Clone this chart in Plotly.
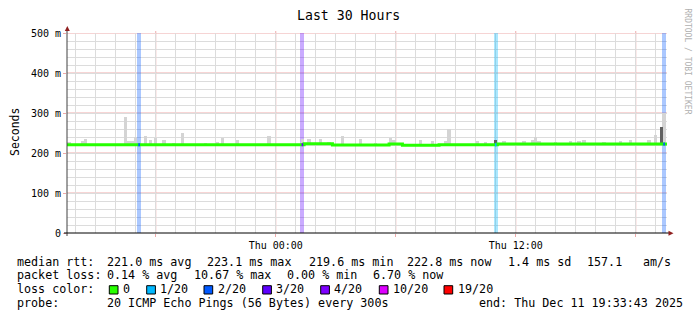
import pandas as pd
import plotly.graph_objects as go

# ---------------- data ----------------
START = "2025-12-10 13:33:43"
END = "2025-12-11 19:33:43"

# median RTT (ms) as step changes
median_times = ["2025-12-10 13:33:43", "2025-12-11 01:25:00", "2025-12-11 02:50:00", "2025-12-11 05:40:00",
                "2025-12-11 06:20:00", "2025-12-11 08:10:00", "2025-12-11 11:05:00", "2025-12-11 19:33:43"]
median_ms = [220.8, 223.1, 220.0, 222.5, 219.6, 220.6, 222.3, 222.3]

# light smoke (upper ping spread, ms)
smoke_times = ["2025-12-10 13:40", "2025-12-10 14:20", "2025-12-10 14:30", "2025-12-10 16:30",
               "2025-12-10 16:40", "2025-12-10 16:50", "2025-12-10 17:00", "2025-12-10 17:30",
               "2025-12-10 17:45", "2025-12-10 18:00", "2025-12-10 18:25", "2025-12-10 18:55",
               "2025-12-10 19:20", "2025-12-10 20:30", "2025-12-10 21:05", "2025-12-10 21:20",
               "2025-12-10 22:05", "2025-12-10 23:40",
               "2025-12-11 01:20", "2025-12-11 01:40", "2025-12-11 02:15", "2025-12-11 02:40",
               "2025-12-11 03:20", "2025-12-11 04:15", "2025-12-11 05:00", "2025-12-11 05:45",
               "2025-12-11 05:55", "2025-12-11 07:15", "2025-12-11 07:50", "2025-12-11 08:30",
               "2025-12-11 08:40", "2025-12-11 10:05", "2025-12-11 10:30", "2025-12-11 11:25",
               "2025-12-11 12:25", "2025-12-11 12:50", "2025-12-11 13:00", "2025-12-11 13:10",
               "2025-12-11 14:00", "2025-12-11 14:45", "2025-12-11 15:10", "2025-12-11 15:25",
               "2025-12-11 16:25", "2025-12-11 17:15", "2025-12-11 17:45", "2025-12-11 18:40",
               "2025-12-11 19:00", "2025-12-11 19:25"]
smoke_top_ms = [227, 230, 236, 291, 230, 231, 241, 242, 232, 238, 232, 226, 250, 225, 227, 237, 232, 243,
                234, 236, 234, 227, 242, 236, 226, 238, 232, 232, 230, 231, 260, 231, 227, 231,
                231, 232, 241, 229, 227, 231, 231, 232, 228, 229, 232, 232, 245, 300]

# dark smoke
dark_smoke_times = ["2025-12-11 11:00", "2025-12-11 19:18"]
dark_smoke_top_ms = [232, 266]

# packet loss events (pings lost out of 20)
loss_times = ["2025-12-10 17:10", "2025-12-11 01:20", "2025-12-11 11:00", "2025-12-11 19:25"]
loss_count = [2, 3, 1, 2]

loss_levels = ["0", "1/20", "2/20", "3/20", "4/20", "10/20", "19/20"]
loss_level_counts = [0, 1, 2, 3, 4, 10, 19]
loss_level_colors = ["#26ff00", "#00b8ff", "#0059ff", "#5e00ff", "#7e00ff", "#dd00ff", "#ff0000"]

rtt_stats = [221.0, 223.1, 219.6, 222.8]   # avg max min now
rtt_sd = 1.4
rtt_ams = 157.1
loss_stats = [0.14, 10.67, 0.00, 6.70]     # avg max min now

y_tickvals = [0, 100, 200, 300, 400, 500]
y_ticktext = ["0", "100 m", "200 m", "300 m", "400 m", "500 m"]
x_major_ticks = ["2025-12-10 18:00", "2025-12-11 00:00", "2025-12-11 06:00", "2025-12-11 12:00", "2025-12-11 18:00"]
x_major_text = ["", "Thu 00:00", "", "Thu 12:00", ""]

# ---------------- helpers ----------------
STEP_MS = 300000
med = pd.Series(median_ms, index=pd.to_datetime(median_times, format="mixed"))


def med_at(t):
    return float(med.asof(pd.Timestamp(t)))


def hex_rgba(h, a):
    h = h.lstrip("#")
    return "rgba(%d,%d,%d,%.2f)" % (int(h[0:2], 16), int(h[2:4], 16), int(h[4:6], 16), a)


color_of = dict(zip(loss_level_counts, loss_level_colors))

L, T, W, H = 67, 33, 600, 200


def px(x):
    return (x - L) / W


def py(y):
    return (T + H - y) / H


MONO = "DejaVu Sans Mono"

fig = go.Figure()

# loss background bands
for t, c in zip(loss_times, loss_count):
    fig.add_trace(go.Bar(x=[t], y=[500], base=[0], width=[2.4 * STEP_MS],
                         marker=dict(color=hex_rgba(color_of[c], 0.33), line=dict(width=0)),
                         hoverinfo="skip"))

# smoke
fig.add_trace(go.Bar(x=smoke_times, y=[v - med_at(t) for t, v in zip(smoke_times, smoke_top_ms)],
                     base=[med_at(t) for t in smoke_times], width=2 * STEP_MS,
                     marker=dict(color="#d4d4d4", line=dict(width=0))))
fig.add_trace(go.Bar(x=dark_smoke_times, y=[v - med_at(t) for t, v in zip(dark_smoke_times, dark_smoke_top_ms)],
                     base=[med_at(t) for t in dark_smoke_times], width=2 * STEP_MS,
                     marker=dict(color="#606060", line=dict(width=0))))

# median line
fig.add_trace(go.Scatter(x=median_times, y=median_ms, mode="lines", line=dict(color="#26ff00", width=3, shape="hv")))

# loss-coloured median pieces
for t, c in zip(loss_times, loss_count):
    ts = pd.Timestamp(t)
    fig.add_trace(go.Scatter(x=[ts - pd.Timedelta(seconds=150), ts + pd.Timedelta(seconds=150)],
                             y=[med_at(t), med_at(t)], mode="lines",
                             line=dict(color=color_of[c], width=3)))

MAJ_GRID = "#eeaaaa"
MIN_GRID = "#dcdcdc"

fig.update_layout(
    width=697, height=321, margin=dict(l=L, r=697 - L - W, t=T, b=321 - T - H),
    plot_bgcolor="white", paper_bgcolor="white", showlegend=False,
    barmode="overlay", bargap=0,
    xaxis=dict(type="date", range=[START, END], tickvals=x_major_ticks, ticktext=x_major_text,
               tickfont=dict(family=MONO, size=10, color="black"), ticks="outside", ticklen=3,
               tickcolor=MAJ_GRID, showgrid=False,
               minor=dict(dtick=3600000, tick0="2025-12-10 00:00", showgrid=True, gridcolor=MIN_GRID, ticks=""),
               showline=False, zeroline=False, fixedrange=True),
    yaxis=dict(range=[0, 500], tickvals=y_tickvals, ticktext=y_ticktext,
               tickfont=dict(family=MONO, size=10, color="black"), ticks="outside", ticklen=3,
               tickcolor=MAJ_GRID, showgrid=False,
               minor=dict(dtick=20, showgrid=True, gridcolor=MIN_GRID, ticks=""),
               showline=False, zeroline=False, fixedrange=True),
)

shapes = []
# major (red) grid lines drawn above the minor grid
for tv in x_major_ticks:
    shapes.append(dict(type="line", xref="x", yref="paper", x0=tv, x1=tv, y0=0, y1=py(31),
                       layer="below", line=dict(color=MAJ_GRID, width=1)))
for yv in y_tickvals[1:]:
    shapes.append(dict(type="line", xref="paper", yref="y", x0=0, x1=1, y0=yv, y1=yv,
                       layer="below", line=dict(color=MAJ_GRID, width=1)))
# axis lines
shapes.append(dict(type="line", xref="paper", yref="paper", x0=px(67), x1=px(67), y0=py(236), y1=py(29),
                   line=dict(color="#404040", width=1)))
shapes.append(dict(type="line", xref="paper", yref="paper", x0=px(64), x1=px(669), y0=py(233), y1=py(233),
                   line=dict(color="#000000", width=1)))
# arrows
shapes.append(dict(type="path", xref="paper", yref="paper",
                   path="M %f %f L %f %f L %f %f Z" % (px(67.3), py(26), px(64.8), py(31), px(69.8), py(31)),
                   fillcolor="#902020", line=dict(width=0)))
shapes.append(dict(type="path", xref="paper", yref="paper",
                   path="M %f %f L %f %f L %f %f Z" % (px(673.5), py(233.3), px(668.5), py(230.8), px(668.5), py(235.8)),
                   fillcolor="#902020", line=dict(width=0)))

ann = []


def text(x, y, s, size=11.7, anchor="left", color="black", angle=0):
    ann.append(dict(xref="paper", yref="paper", x=px(x), y=py(y), text=s, showarrow=False,
                    xanchor=anchor, yanchor="middle", textangle=angle, borderpad=0,
                    font=dict(family=MONO, size=size, color=color)))


text(348.5, 15.7, "Last 30 Hours", size=13.2, anchor="center")
text(15, 132, "Seconds", size=11.5, anchor="center", angle=-90)
text(687.5, 61, "RRDTOOL / TOBI OETIKER", size=8, anchor="center", color="#b0b0b0", angle=90)

# legend line 1
y1 = 261.7
text(16.2, y1, "median rtt:")
text(106.2, y1, "%.1f ms avg" % rtt_stats[0])
text(206.2, y1, "%.1f ms max" % rtt_stats[1])
text(307.8, y1, "%.1f ms min" % rtt_stats[2])
text(406.2, y1, "%.1f ms now" % rtt_stats[3])
text(506.8, y1, "%.1f ms sd" % rtt_sd)
text(585.5, y1, "%.1f" % rtt_ams)
text(642.2, y1, "am/s")
# legend line 2
y2 = 275
text(16.2, y2, "packet loss:")
text(106.2, y2, "%.2f %% avg" % loss_stats[0])
text(192.8, y2, "%.2f %% max" % loss_stats[1])
text(285.5, y2, "%.2f %% min" % loss_stats[2])
text(372.2, y2, "%.2f %% now" % loss_stats[3])
# legend line 3
y3 = 289.3
text(16.2, y3, "loss color:")
box_x = [109.3, 146.7, 204, 262.7, 320.7, 379.3, 444]
for bx, lab, col in zip(box_x, loss_levels, loss_level_colors):
    shapes.append(dict(type="rect", xref="paper", yref="paper", x0=px(bx), x1=px(bx + 8.7),
                       y0=py(285.7), y1=py(294), fillcolor=col, line=dict(color="black", width=1)))
    text(bx + 12.5, y3, lab)
# legend line 4
y4 = 303.3
text(16.2, y4, "probe:")
text(106.2, y4, "20 ICMP Echo Pings (56 Bytes) every 300s")
text(478.2, y4, "end: Thu Dec 11 19:33:43 2025")

fig.update_layout(shapes=shapes, annotations=ann)
fig.write_html("out.html")
